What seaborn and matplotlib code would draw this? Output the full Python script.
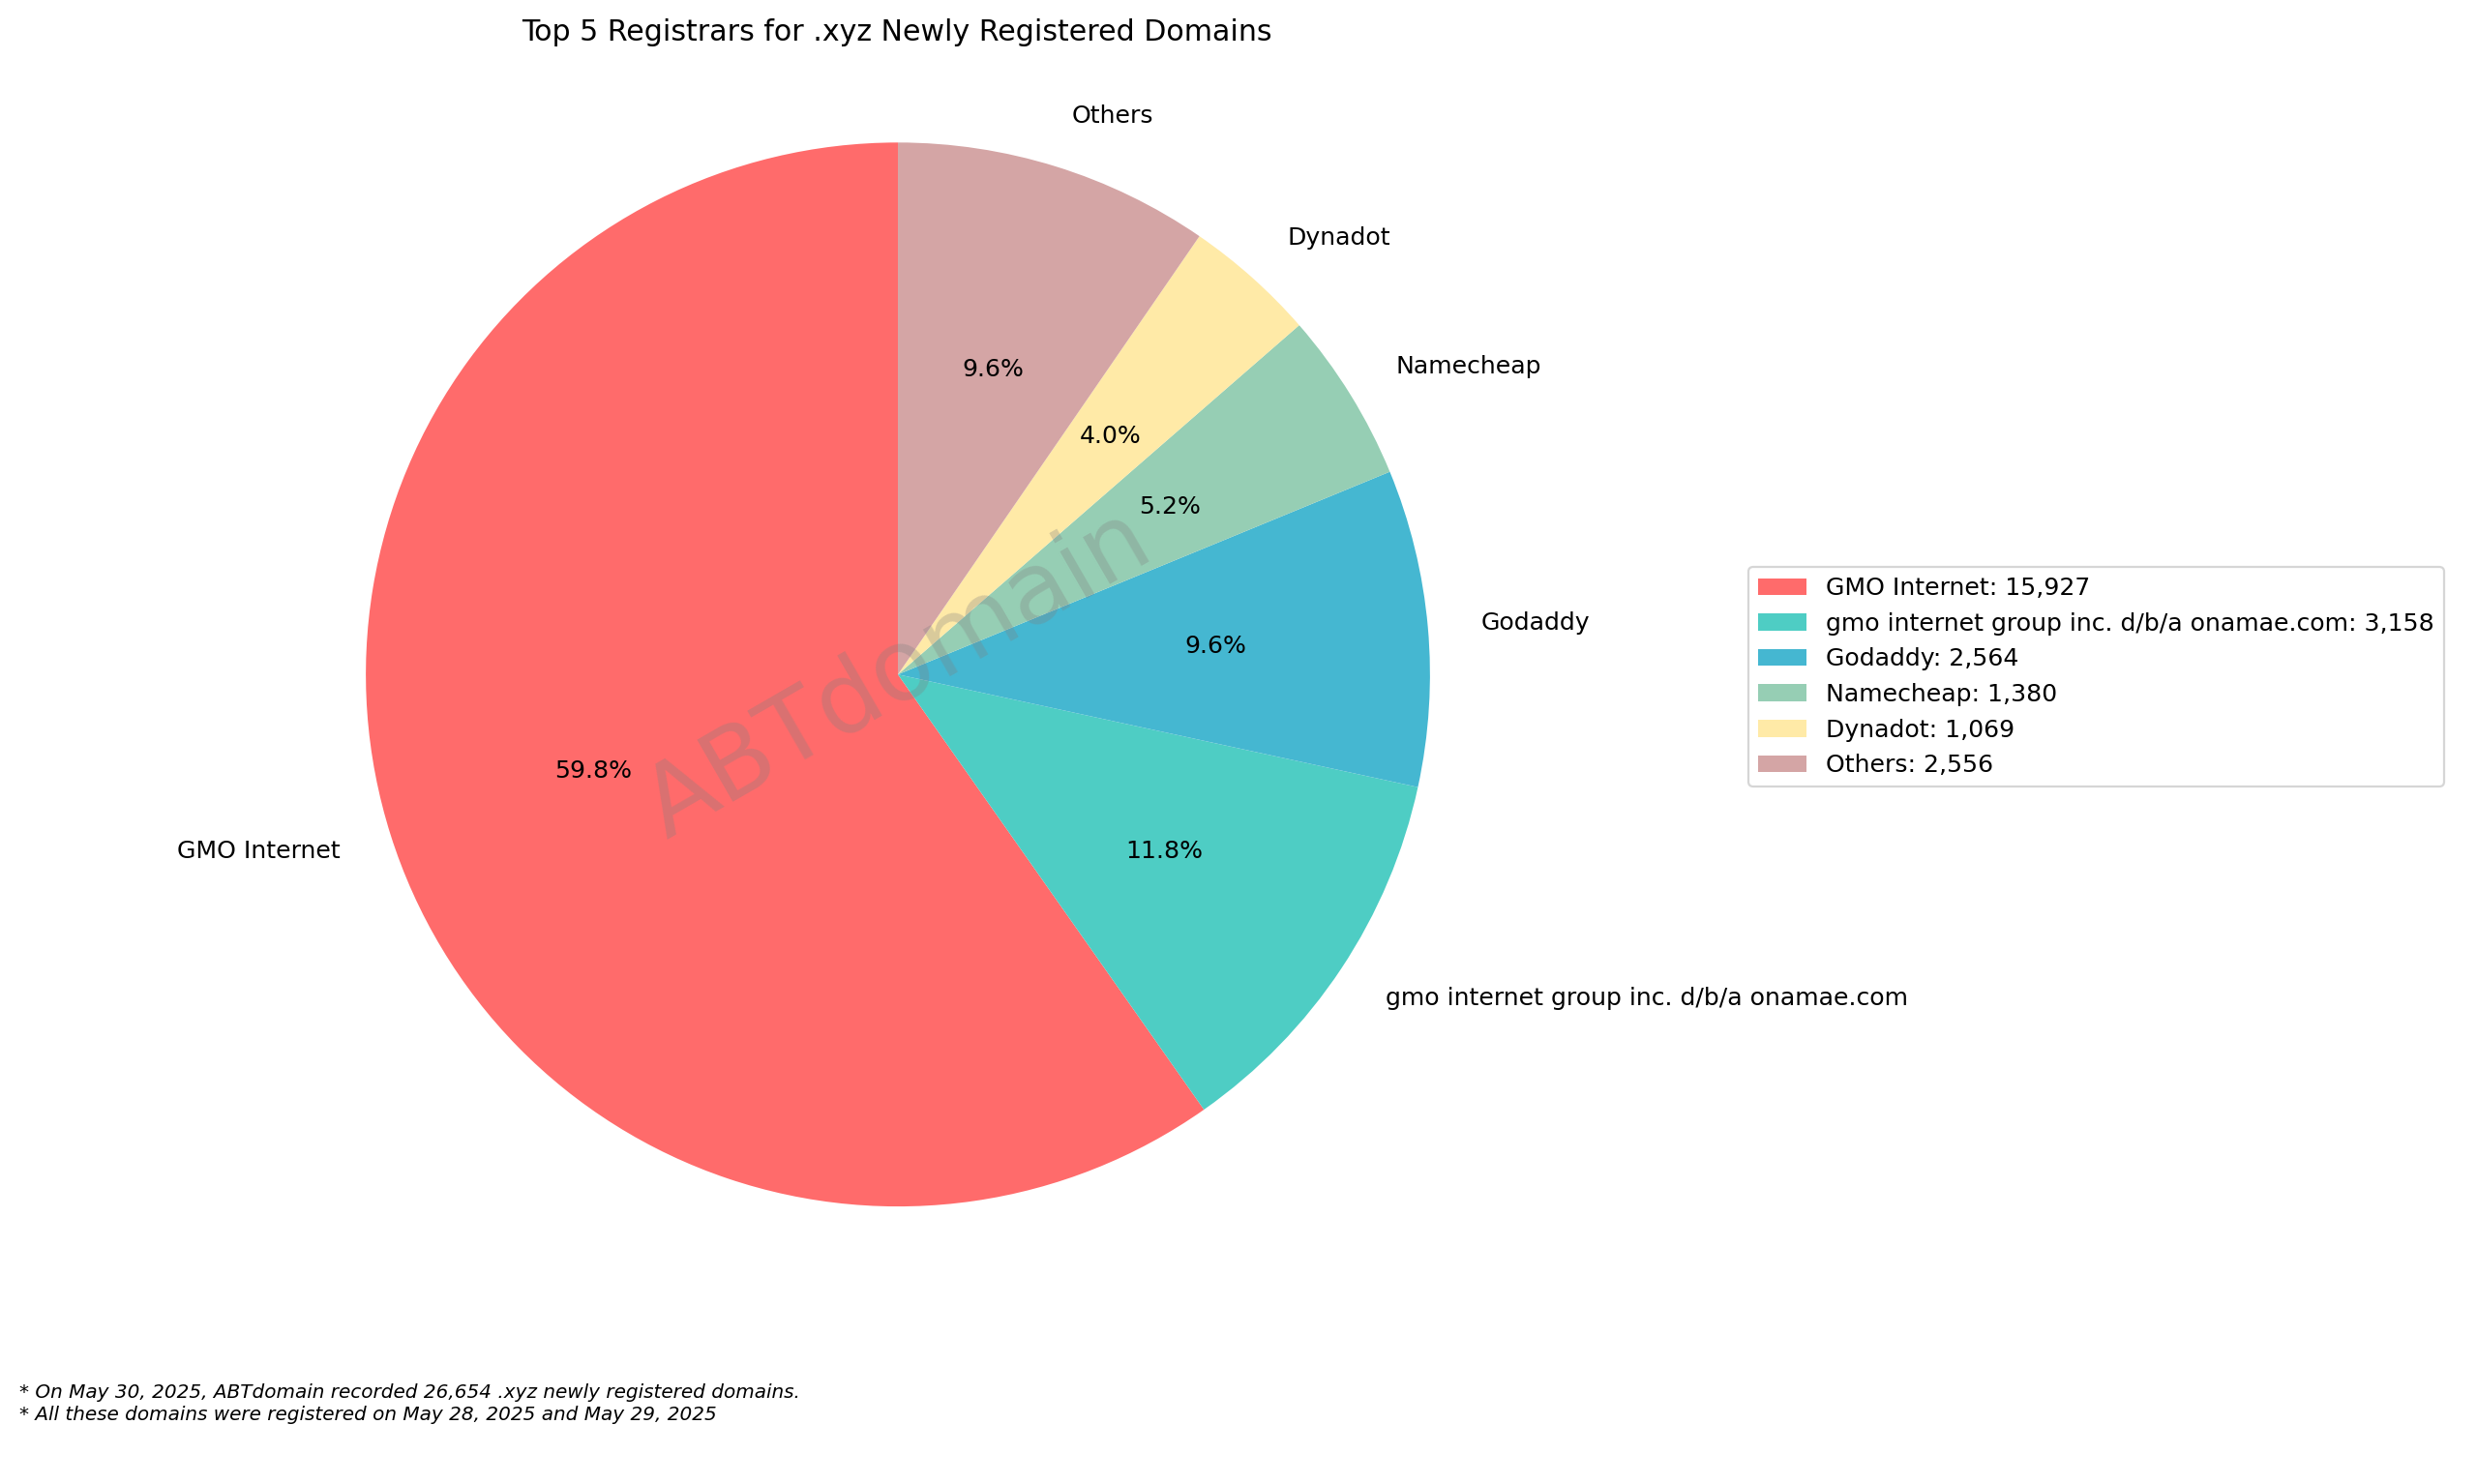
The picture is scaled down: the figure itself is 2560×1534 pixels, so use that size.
import matplotlib
matplotlib.use("Agg")
import matplotlib.pyplot as plt
import seaborn as sns

registrars = ["GMO Internet", "gmo internet group inc. d/b/a onamae.com", "Godaddy",
              "Namecheap", "Dynadot", "Others"]
counts = [15927, 3158, 2564, 1380, 1069, 2556]
hex_colors = ["#FF6B6B", "#4ECDC4", "#45B7D1", "#96CEB4", "#FFEAA7", "#D4A5A5"]

colors = sns.color_palette(hex_colors)

fig = plt.figure(figsize=(16, 9.5875), dpi=160)
ax = fig.add_axes([0.094, 0.097, 0.537, 0.897])
wedges, texts, autotexts = ax.pie(counts, labels=registrars, colors=colors,
                                  autopct="%1.1f%%", startangle=90,
                                  textprops={"fontsize": 11.3})
ax.set_xlim(-1.25, 1.25)
ax.set_ylim(-1.25, 1.25)
ax.set_aspect("equal")
fig.text(0.362, 0.978, "Top 5 Registrars for .xyz Newly Registered Domains",
         fontsize=13.5, ha="center", va="center")
ax.text(0, 0, "ABTdomain", fontsize=46, color="gray", alpha=0.3,
        rotation=30, ha="center", va="center")

fig.legend(wedges, [f"{r}: {c:,}" for r, c in zip(registrars, counts)],
           loc="upper left", bbox_to_anchor=(0.701, 0.626), fontsize=11.3)

fig.text(0.008, 0.058, "* On May 30, 2025, ABTdomain recorded 26,654 .xyz newly registered domains.",
         fontsize=9, style="italic")
fig.text(0.008, 0.043, "* All these domains were registered on May 28, 2025 and May 29, 2025",
         fontsize=9, style="italic")

fig.savefig("out.png", dpi=160)
